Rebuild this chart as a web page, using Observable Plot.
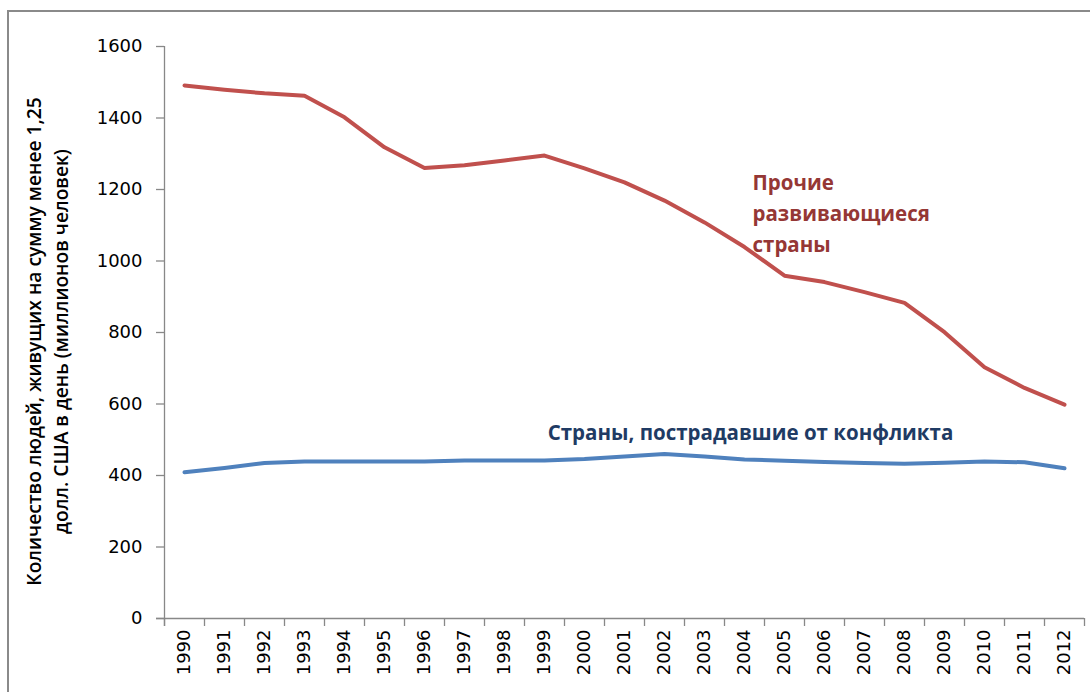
<!DOCTYPE html>
<html><head><meta charset="utf-8">
<script src="https://cdn.jsdelivr.net/npm/d3@7"></script>
<script src="https://cdn.jsdelivr.net/npm/@observablehq/plot@0.6"></script>
<style>
html,body{margin:0;padding:0;background:#fff;}
#wrap{position:relative;width:1090px;height:692px;overflow:hidden;}
#wrap svg{position:absolute;left:0;top:0;}
#border{position:absolute;left:7px;top:10px;width:1200px;height:800px;border-top:2px solid #8a8a8a;border-left:2px solid #8a8a8a;pointer-events:none;}
</style></head><body>
<div id="wrap"><div id="border"></div></div>
<script>
const years = ["1990","1991","1992","1993","1994","1995","1996","1997","1998","1999","2000","2001","2002","2003","2004","2005","2006","2007","2008","2009","2010","2011","2012"];
const otherDeveloping = [1491,1479,1469,1462,1402,1318,1260,1268,1281,1295,1259,1220,1169,1108,1039,959,941,913,883,801,703,645,598];
const conflictAffected = [409,421,435,439,439,439,439,442,442,442,446,453,460,453,445,441,438,435,433,436,439,437,420];
const yTicks = [0,200,400,600,800,1000,1200,1400,1600];
const seriesLabels = ["Прочие\nразвивающиеся\nстраны", "Страны, пострадавшие от конфликта"];
const yTitle = ["Количество людей, живущих на сумму менее 1,25", "долл. США в день (миллионов человек)"];

const otherRows = years.map((yr, i) => ({year: yr, value: otherDeveloping[i]}));
const conflictRows = years.map((yr, i) => ({year: yr, value: conflictAffected[i]}));

const axisGray = "#888888";
const chart = Plot.plot({
  width: 1090, height: 692,
  marginLeft: 164, marginRight: 6, marginTop: 46, marginBottom: 74,
  style: {fontFamily: "DejaVu Sans", fontSize: "18px", background: "transparent", overflow: "visible"},
  x: {type: "point", domain: years, padding: 0.5},
  y: {domain: [0, 1600]},
  marks: [
    Plot.ruleY([0], {stroke: axisGray, strokeWidth: 1.3, insetLeft: -8}),
    Plot.ruleX([years[0]], {x: d => d, dx: -20, y1: 1600, y2: 0, insetBottom: -8, stroke: axisGray, strokeWidth: 1.3}),
    Plot.ruleX(years, {x: d => d, dx: -20, y1: 0, y2: 0, insetBottom: -8, stroke: axisGray, strokeWidth: 1.3}),
    Plot.ruleX([years[years.length - 1]], {x: d => d, dx: 20, y1: 0, y2: 0, insetBottom: -8, stroke: axisGray, strokeWidth: 1.3}),
    Plot.axisY({ticks: yTicks, tickSize: 8, tickPadding: 14, stroke: axisGray, strokeWidth: 1.3, fill: "#000", fontSize: 18, label: null, tickFormat: d => String(d)}),
    Plot.axisX({tickSize: 0, tickRotate: -90, tickPadding: 11, fill: "#000", fontSize: 18, label: null}),
    Plot.line(otherRows, {x: "year", y: "value", stroke: "#C0504D", strokeWidth: 4, strokeLinejoin: "round", strokeLinecap: "round"}),
    Plot.line(conflictRows, {x: "year", y: "value", stroke: "#4F81BD", strokeWidth: 4, strokeLinejoin: "round", strokeLinecap: "round"}),
    Plot.text([seriesLabels[0]], {text: d => d, x: () => "2004", y: () => 1140, dx: 8, textAnchor: "start", lineAnchor: "middle", lineHeight: 1.5, fontSize: 20.5, fontWeight: 700, fontFamily: "Open Sans", fill: "#953735"}),
    Plot.text([seriesLabels[1]], {text: d => d, x: () => "2004", y: () => 517, dx: 6, textAnchor: "middle", lineAnchor: "middle", fontSize: 20.5, fontWeight: 700, fontFamily: "Open Sans", fill: "#1F3B64"}),
    Plot.text([yTitle.join("\n")], {text: d => d, frameAnchor: "left", rotate: -90, dx: -119, dy: 9, textAnchor: "middle", lineAnchor: "middle", lineHeight: 1.45, fontSize: 19.2, fontWeight: 600, fontFamily: "Open Sans", fill: "#000"})
  ]
});
document.getElementById("wrap").prepend(chart);
</script>
</body></html>
